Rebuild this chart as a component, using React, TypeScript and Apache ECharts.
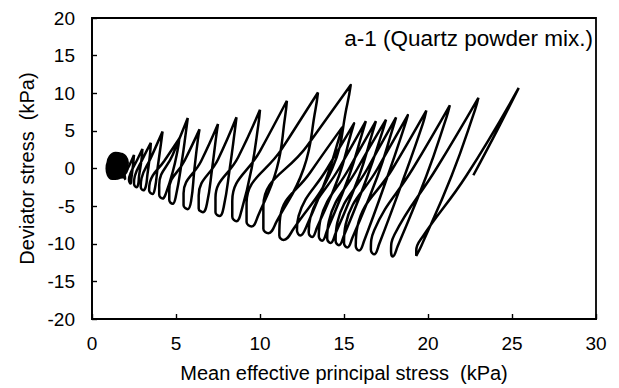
import React, { useEffect, useRef } from "react";
import * as echarts from "echarts";

const xTicks = [0, 5, 10, 15, 20, 25, 30];
const yTicks = [-20, -15, -10, -5, 0, 5, 10, 15, 20];
const panelLabel = "a-1 (Quartz powder mix.)";
const xTitle = "Mean effective principal stress  (kPa)";
const yTitle = "Deviator stress  (kPa)";

// [p', q] pairs (kPa)
const blob = [
  [1.5, 0.4], [1.1, 1.2], [1.5, 1.8], [2.0, 1.1], [1.9, -0.5], [1.4, -1.1], [1.0, -0.6],
  [1.0, 0.7], [1.4, 1.9], [1.9, 1.5], [2.05, 0.2], [1.7, -1.0], [1.2, -1.2], [0.95, 0.0],
  [1.2, 1.5], [1.7, 1.8], [2.05, 0.8], [1.8, -0.8], [1.3, -0.9], [1.1, 0.3], [1.3, 1.1],
  [1.7, 1.3], [1.9, 0.3], [1.6, -0.6], [1.3, -0.3], [1.4, 0.7], [1.6, 0.9], [1.7, 0.0],
  [1.5, -0.4], [1.2, 0.2], [1.5, 1.3], [1.8, 0.6], [1.5, 0.1], [1.4, 0.3], [1.6, 0.5],
  [1.9, -1.3],
];

const smallCycles = [
  [2.0, -1.5], [1.9, -1.0], [2.2, 0.3], [2.5, 1.8],
  [2.45, 0.6], [2.35, -1.2], [2.3, -2.0],
  [2.2, -1.5], [2.3, -0.6], [2.7, 1.2], [3.0, 2.6],
  [2.95, 1.2], [2.8, -1.0], [2.75, -2.1], [2.65, -2.5],
  [2.5, -2.0], [2.55, -1.0], [3.0, 1.2], [3.5, 3.4],
  [3.45, 1.8], [3.3, -0.8], [3.2, -2.4], [3.05, -2.9],
  [2.9, -2.4], [2.95, -1.3], [3.5, 1.4], [4.2, 4.9],
  [4.1, 3.2], [3.9, 0.0], [3.75, -2.6], [3.6, -3.4],
  [3.4, -2.9], [3.45, -1.8], [4.3, 1.0], [5.2, 4.0],
  [5.1, 2.5], [4.8, -0.5], [4.4, -3.3], [4.2, -4.0],
  [4.0, -3.5], [4.0, -2.2], [4.8, 1.8], [5.7, 6.7],
  [5.6, 5.0], [5.35, 1.0], [5.0, -3.6], [4.8, -4.7],
];

const middleCycles = [
  [4.6, -4.2], [4.6, -2.8], [5.5, 1.0], [6.4, 5.2],
  [6.3, 3.8], [6.1, 0.0], [5.9, -4.3], [5.7, -5.4],
  [5.45, -4.9], [5.45, -3.3], [6.5, 1.0], [7.5, 5.9],
  [7.4, 4.4], [7.15, 0.0], [6.85, -4.6], [6.6, -5.8],
  [6.35, -5.3], [6.35, -3.6], [7.5, 1.2], [8.6, 6.8],
  [8.5, 5.0], [8.2, 0.0], [7.85, -5.0], [7.6, -6.3],
  [7.35, -5.8], [7.35, -3.9], [8.7, 1.5], [10.0, 7.8],
  [9.9, 5.8], [9.5, 0.0], [8.9, -5.6], [8.6, -7.0],
  [8.35, -6.4], [8.35, -4.3], [10.0, 2.3], [11.6, 9.0],
  [11.5, 7.0], [11.0, 0.0], [9.9, -6.2], [9.5, -7.7],
  [9.2, -7.1], [9.2, -4.6], [11.3, 2.6], [13.45, 10.1],
  [13.3, 7.8], [12.6, 0.0], [11.0, -7.0], [10.5, -8.6],
  [10.2, -8.0], [10.2, -5.0], [12.8, 3.0], [15.4, 11.1],
  [15.2, 8.6], [14.3, 0.0], [12.0, -8.0], [11.4, -9.5],
];

const rightCycles = [
  [11.15, -8.9], [11.2, -6.5], [13.0, -0.5], [14.9, 5.5],
  [14.7, 4.0], [14.0, -1.0], [12.8, -7.5], [12.4, -8.9],
  [12.2, -8.2], [12.3, -6.3], [14.0, 0.0], [15.6, 6.0],
  [15.4, 4.5], [14.7, -1.0], [13.4, -7.8], [13.1, -9.1],
  [12.9, -8.5], [13.0, -6.5], [14.7, 0.0], [16.3, 6.3],
  [16.1, 4.8], [15.3, -1.0], [14.0, -8.2], [13.7, -9.6],
  [13.5, -9.0], [13.6, -6.8], [15.3, 0.0], [16.9, 6.3],
  [16.7, 4.8], [15.9, -1.0], [14.5, -8.6], [14.2, -9.9],
  [14.0, -9.3], [14.1, -7.0], [15.8, 0.0], [17.5, 6.5],
  [17.3, 5.0], [16.4, -1.0], [15.0, -8.9], [14.7, -10.2],
  [14.5, -9.6], [14.6, -7.2], [16.4, 0.0], [18.1, 6.8],
  [17.9, 5.3], [17.0, -1.0], [15.5, -9.2], [15.2, -10.5],
  [15.0, -9.9], [15.1, -7.4], [17.0, 0.0], [18.8, 7.1],
  [18.6, 5.6], [17.6, -1.0], [16.2, -9.6], [15.9, -10.9],
  [15.7, -10.3], [15.8, -7.7], [17.9, 0.0], [19.9, 7.7],
  [19.7, 6.0], [18.6, -1.0], [17.1, -10.0], [16.8, -11.4],
  [16.6, -10.8], [16.8, -8.2], [19.1, 0.0], [21.3, 8.4],
  [21.1, 6.8], [19.9, -1.0], [18.2, -10.3], [17.9, -11.7],
  [17.8, -11.0], [18.0, -8.8], [20.5, 0.0], [23.0, 9.4],
  [22.8, 7.8], [21.4, -1.0], [19.6, -10.3], [19.3, -11.6],
  [19.3, -10.9], [19.7, -9.0], [22.3, -0.9], [25.4, 10.7],
  [24.1, 5.0], [22.7, -0.9],
];

export default function App() {
  const ref = useRef<HTMLDivElement>(null);
  useEffect(() => {
    if (!ref.current) return;
    const chart = echarts.init(ref.current, null, { renderer: "svg" });
    const font = "Liberation Sans, Arial, sans-serif";
    const path = [...smallCycles, ...middleCycles, ...rightCycles];
    chart.setOption({
      animation: false,
      grid: {
        left: 92,
        right: 23,
        top: 18,
        bottom: 60,
        show: true,
        borderColor: "#000",
        borderWidth: 1.8,
      },
      xAxis: {
        type: "value",
        min: xTicks[0],
        max: xTicks[xTicks.length - 1],
        interval: 5,
        name: xTitle,
        nameLocation: "middle",
        nameGap: 44,
        nameTextStyle: { color: "#000", fontSize: 20, fontFamily: font },
        axisLine: { show: true, onZero: false, lineStyle: { color: "#000", width: 1.8 } },
        axisTick: { show: true, inside: true, length: 5, lineStyle: { color: "#000", width: 1.4 } },
        axisLabel: { color: "#000", fontSize: 19, fontFamily: font, margin: 15 },
        splitLine: { show: false },
      },
      yAxis: {
        type: "value",
        min: yTicks[0],
        max: yTicks[yTicks.length - 1],
        interval: 5,
        name: yTitle,
        nameLocation: "middle",
        nameGap: 55,
        nameTextStyle: { color: "#000", fontSize: 20, fontFamily: font },
        axisLine: { show: true, onZero: false, lineStyle: { color: "#000", width: 1.8 } },
        axisTick: { show: true, inside: true, length: 5, lineStyle: { color: "#000", width: 1.4 } },
        axisLabel: { color: "#000", fontSize: 19, fontFamily: font, margin: 17 },
        splitLine: { show: false },
      },
      graphic: [
        {
          type: "text",
          right: 26,
          top: 27,
          style: { text: panelLabel, fill: "#000", font: `22.5px ${font}` },
        },
      ],
      series: [
        {
          type: "line",
          data: blob,
          symbol: "none",
          smooth: 0.4,
          lineStyle: { color: "#000", width: 5 },
        },
        {
          type: "line",
          data: path,
          symbol: "none",
          smooth: 0.45,
          lineStyle: { color: "#000", width: 2.5 },
        },
      ],
    });
    return () => chart.dispose();
  }, []);
  return (
    <div
      ref={ref}
      style={{ position: "absolute", left: 0, top: 0, width: 619, height: 388 }}
    />
  );
}
